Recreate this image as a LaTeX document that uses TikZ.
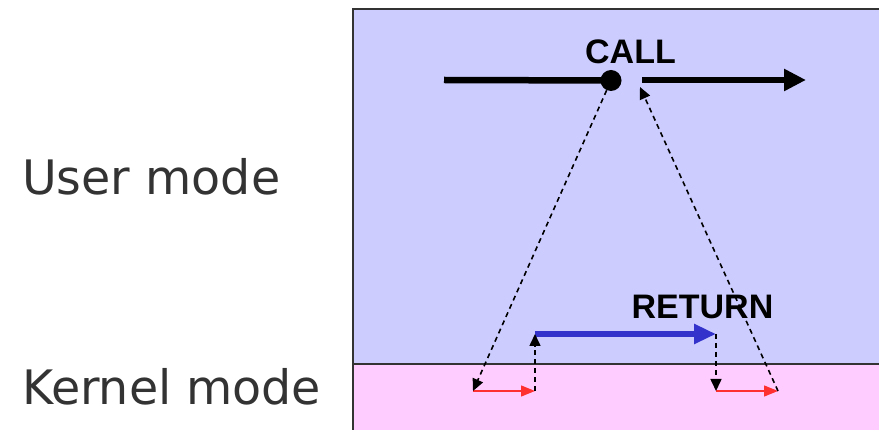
\documentclass[tikz,border=0pt]{standalone}
\usepackage{fontspec}
\setmainfont{DejaVu Sans}
\newfontfamily\boldlab{Liberation Sans}
\usetikzlibrary{arrows.meta}
\definecolor{userbg}{HTML}{CCCCFF}
\definecolor{kernbg}{HTML}{FFCCFF}
\definecolor{edge}{HTML}{333333}
\definecolor{retblue}{HTML}{3333CC}
\definecolor{kred}{HTML}{FF3030}
\tikzset{
  modelabel/.style={anchor=base west, inner sep=0pt, text=edge, font=\fontsize{47.5}{52}\selectfont},
  biglabel/.style={inner sep=0pt, font=\boldlab\bfseries\fontsize{34}{37}\selectfont},
  thickarrow/.style={line width=6.5pt, -{Triangle[length=22pt,width=21pt]}},
  dasharrow/.style={dash pattern=on 5pt off 4pt, line width=1.6pt, -{Triangle[length=12pt,width=11pt]}},
  redarrow/.style={kred, line width=1.3pt, -{Triangle[length=14pt,width=11pt]}},
}
\begin{document}
\begin{tikzpicture}[x=1pt,y=-1pt]
\useasboundingbox (0,0) rectangle (879,430);
\clip (0,0) rectangle (879,430);
% regions
\fill[userbg] (353,9) rectangle (900,364);
\fill[kernbg] (353,364) rectangle (900,440);
\draw[edge, line width=2.5pt] (353,440) -- (353,9) -- (900,9);
\draw[edge, line width=2pt] (353,364) -- (900,364);
% labels
\node[modelabel] (user) at (22,195) {User mode};
\node[modelabel] (kernel) at (22,405) {Kernel mode};
\node[biglabel] (call) at (630.5,52) {CALL};
\node[biglabel] (ret) at (702.5,307) {RETURN};
% coordinates
\coordinate (cs) at (444,80);
\node[circle, fill=black, inner sep=0pt, minimum size=21pt] (dot) at (611,80.5) {};
\coordinate (cr) at (642,80);
\coordinate (ce) at (806,80);
\coordinate (crt) at (640,87);
\coordinate (k1) at (473,391);
\coordinate (k2) at (535,391);
\coordinate (u1) at (535,334);
\coordinate (u2) at (716,334);
\coordinate (k3) at (716,391);
\coordinate (k4) at (778,391);
% call line
\draw[line width=6.5pt] (cs) -- (dot.center);
\draw[thickarrow] (cr) -- (ce);
% blue return
\draw[retblue, line width=5.5pt, -{Triangle[length=22pt,width=19pt]}] (u1) -- (u2);
% red kernel arrows
\draw[redarrow] (k1) -- (k2);
\draw[redarrow] (k3) -- (k4);
% dashed transitions
\draw[dasharrow] (dot) -- (k1);
\draw[dasharrow] (k2) -- (u1);
\draw[dasharrow] (u2) -- (k3);
\draw[dasharrow] (k4) -- (crt);
\end{tikzpicture}
\end{document}
